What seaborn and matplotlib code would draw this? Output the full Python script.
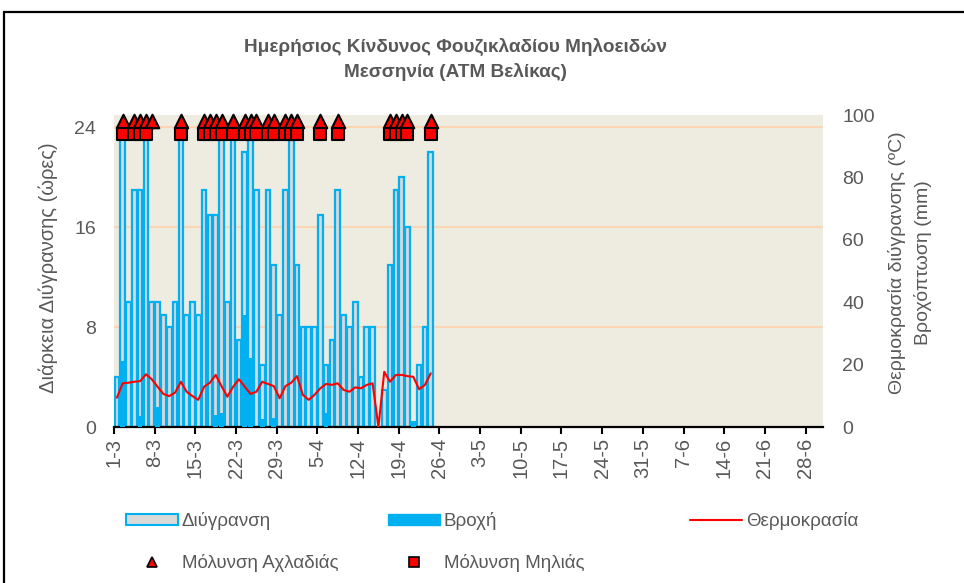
import matplotlib
matplotlib.use("Agg")
import matplotlib.pyplot as plt
import seaborn as sns
import pandas as pd
import numpy as np
from matplotlib.patches import Patch, Rectangle
from matplotlib.lines import Line2D

# ---------------- data (day index 0 = 1 March) ----------------
days = list(range(55))
wetness_hours = [4, 24, 10, 19, 19, 24, 10, 10, 9, 8,
                 10, 24, 9, 10, 9, 19, 17, 17, 24, 10,
                 24, 7, 22, 24, 19, 5, 19, 13, 9, 19,
                 24, 13, 8, 8, 8, 17, 5, 7, 19, 9,
                 8, 10, 4, 8, 8, 0, 3, 13, 19, 20,
                 16, 0, 5, 8, 22]
rain_mm = [0, 21, 0, 0, 3.5, 0, 0, 6.5, 0, 0,
           0, 0, 0, 0, 0, 0, 0, 4, 4.4, 0,
           0, 0, 36, 22, 0, 2.5, 0, 3, 0, 0,
           0, 0, 0, 0, 0, 0, 4.4, 0, 0, 0,
           0, 0, 0, 0, 0, 0, 0, 0, 0, 0,
           0, 2, 0, 0, 0]
temperature = [9.4, 14.0, 14.2, 14.5, 14.7, 16.9, 15.3, 12.9, 10.6, 9.9,
               11.0, 14.5, 11.3, 9.9, 8.7, 12.9, 14.2, 16.7, 13.1, 9.7,
               12.9, 15.3, 12.9, 10.6, 11.3, 14.5, 13.8, 13.1, 9.2, 13.1,
               14.2, 16.3, 10.3, 8.7, 10.3, 12.4, 13.8, 13.5, 14.0, 11.9,
               11.3, 12.7, 12.4, 13.5, 14.0, 0.0, 17.7, 14.5, 16.7, 16.7,
               16.3, 16.1, 12.1, 13.5, 17.2]
pear_infection_days = [1, 3, 4, 5, 6, 11, 15, 16, 17, 18, 20, 22, 23, 24,
                       26, 27, 29, 30, 31, 35, 38, 47, 48, 49, 50, 54]
apple_infection_days = [1, 3, 4, 5, 11, 15, 16, 17, 18, 20, 22, 23, 24,
                        26, 27, 29, 30, 31, 35, 38, 47, 48, 49, 50, 54]
pear_marker_level = 98    # on the right axis
apple_marker_level = 94
tick_days = [0, 7, 14, 21, 28, 35, 42, 49, 56, 63, 70, 77, 84, 91, 98, 105, 112, 119]
tick_labels = ["1-3", "8-3", "15-3", "22-3", "29-3", "5-4", "12-4", "19-4", "26-4",
               "3-5", "10-5", "17-5", "24-5", "31-5", "7-6", "14-6", "21-6", "28-6"]
season_days = 122

# ---------------- style ----------------
sns.set_theme(style="white")
plt.rcParams["font.family"] = ["Liberation Sans", "DejaVu Sans"]
GREY = "#595959"
BLUE = "#00B0F0"
WET_FILL = "#D9D9D9"
RED = "#FF0000"

W, H = 964, 583
fig = plt.figure(figsize=(W / 100, H / 100), dpi=100)
fig.patch.set_facecolor("white")

def fx(px):
    return px / W

def fy(py):
    return 1 - py / H

ax = fig.add_axes([fx(114), fy(427), fx(823) - fx(114), fy(115) - fy(427)])
ax.set_facecolor("#EEEBE0")
ax2 = ax.twinx()

df = pd.DataFrame({"pos": [d + 0.5 for d in days],
                   "wet": wetness_hours, "rain": rain_mm, "temp": temperature})

sns.barplot(data=df, x="pos", y="wet", native_scale=True, ax=ax,
            color=WET_FILL, edgecolor=BLUE, linewidth=1.6, saturation=1,
            errorbar=None, width=0.8)
sns.barplot(data=df, x="pos", y="rain", native_scale=True, ax=ax2,
            color=BLUE, linewidth=0, saturation=1, errorbar=None, width=0.8)
sns.lineplot(data=df, x="pos", y="temp", ax=ax2, color=RED, linewidth=1.5)

pear_df = pd.DataFrame({"pos": [d + 0.5 for d in pear_infection_days],
                        "lvl": [pear_marker_level] * len(pear_infection_days)})
apple_df = pd.DataFrame({"pos": [d + 0.5 for d in apple_infection_days],
                         "lvl": [apple_marker_level] * len(apple_infection_days)})
sns.scatterplot(data=pear_df, x="pos", y="lvl", ax=ax2, marker="^", s=95,
                color=RED, edgecolor="black", linewidth=1.5, zorder=5, clip_on=False)
sns.scatterplot(data=apple_df, x="pos", y="lvl", ax=ax2, marker="s", s=80,
                color=RED, edgecolor="black", linewidth=1.5, zorder=6, clip_on=False)

# axes limits / ticks
ax.set_xlim(0, season_days)
ax.set_ylim(0, 25)
ax2.set_ylim(0, 100)
ax.set_yticks([0, 8, 16, 24])
ax2.set_yticks([0, 20, 40, 60, 80, 100])
ax.set_xticks(tick_days)
ax.set_xticklabels(tick_labels, rotation=90, ha="center", va="top")
ax.set_xlabel("")
ax.set_ylabel("")
ax2.set_xlabel("")
ax2.set_ylabel("")

ax.grid(False)
ax2.grid(False)
ax.set_axisbelow(True)
for yv in [8, 16, 24]:
    ax.axhline(yv, color="#FCD5B4", linewidth=1.5, zorder=0)

for a in (ax, ax2):
    for s in ["top", "left", "right", "bottom"]:
        a.spines[s].set_visible(False)
ax.spines["bottom"].set_visible(True)
ax.spines["bottom"].set_color("black")
ax.spines["bottom"].set_linewidth(1.6)

ax.tick_params(axis="x", which="major", direction="out", length=5, width=1.5,
               color="black", labelsize=14.5, labelcolor=GREY, pad=3, bottom=True)
ax.tick_params(axis="y", length=0, labelsize=14, labelcolor=GREY, pad=13)
ax2.tick_params(axis="y", length=0, labelsize=14, labelcolor=GREY, pad=14)

# titles / labels
fig.text(fx(456), fy(47), "Ημερήσιος Κίνδυνος Φουζικλαδίου Μηλοειδών",
         ha="center", va="center", fontsize=13.7, fontweight="bold", color=GREY)
fig.text(fx(456), fy(72), "Μεσσηνία (ΑΤΜ Βελίκας)",
         ha="center", va="center", fontsize=13.7, fontweight="bold", color=GREY)
fig.text(fx(48), fy(268), "Διάρκεια Διύγρανσης (ώρες)", rotation=90,
         ha="center", va="center", fontsize=14.5, color=GREY)
fig.text(fx(897), fy(263), "Θερμοκρασία διύγρανσης (ºC)", rotation=90,
         ha="center", va="center", fontsize=14, color=GREY)
fig.text(fx(923), fy(263), "Βροχόπτωση (mm)", rotation=90,
         ha="center", va="center", fontsize=14, color=GREY)

# legend (three columns placed like the original)
h_wet = Patch(facecolor=WET_FILL, edgecolor=BLUE, linewidth=1.5)
h_rain = Patch(facecolor=BLUE, edgecolor=BLUE)
h_temp = Line2D([], [], color=RED, linewidth=1.5)
h_pear = Line2D([], [], marker="^", linestyle="none", markerfacecolor=RED,
                markeredgecolor="black", markersize=7, markeredgewidth=1.2)
h_apple = Line2D([], [], marker="s", linestyle="none", markerfacecolor=RED,
                 markeredgecolor="black", markersize=7, markeredgewidth=1.2)

common = dict(frameon=False, fontsize=13.5, handlelength=2.77, handleheight=0.55,
              handletextpad=0.2, labelspacing=1.27, borderpad=0, borderaxespad=0,
              loc="upper left", labelcolor=GREY)
leg1 = fig.legend([h_wet, h_pear], ["Διύγρανση", "Μόλυνση Αχλαδιάς"],
                  bbox_to_anchor=(fx(126), fy(512)), **common)
leg2 = fig.legend([h_rain, h_apple], ["Βροχή", "Μόλυνση Μηλιάς"],
                  bbox_to_anchor=(fx(388), fy(512)), **common)
leg3 = fig.legend([h_temp], ["Θερμοκρασία"],
                  bbox_to_anchor=(fx(690), fy(512)), **common)

# outer chart border
fig.add_artist(Rectangle((fx(4), -0.05), 1.2, fy(12) + 0.05, transform=fig.transFigure,
                         fill=False, edgecolor="black", linewidth=1.6))

fig.savefig("out.png", dpi=100)
